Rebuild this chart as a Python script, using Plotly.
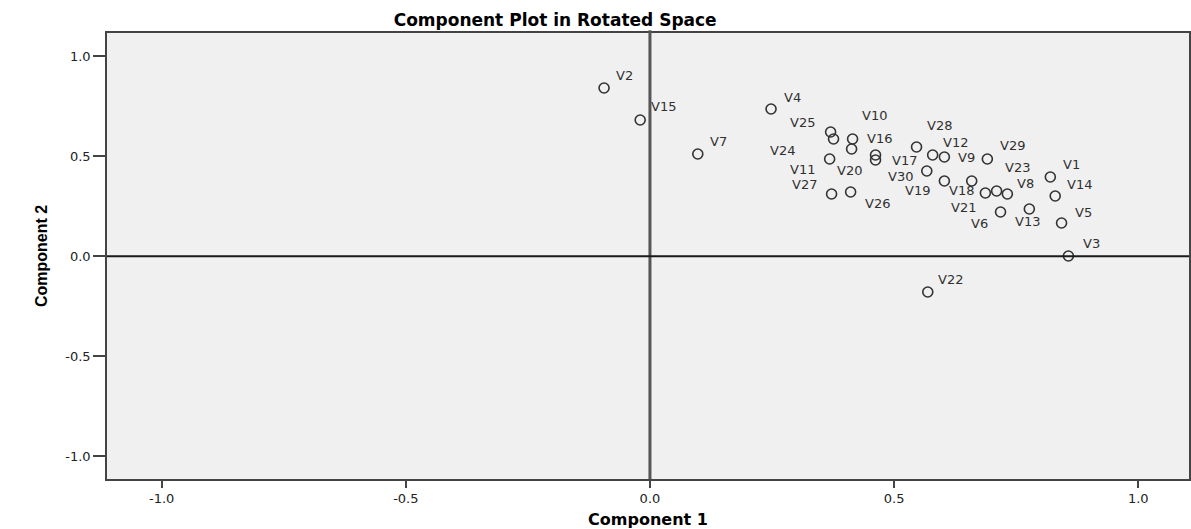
import plotly.graph_objects as go

# ---- data (rotated component loadings) ----
labels = [f"V{i}" for i in range(1, 31)]
component1 = [0.820, -0.094, 0.857, 0.248, 0.843, 0.718, 0.098, 0.732, 0.603, 0.376,
              0.462, 0.579, 0.777, 0.830, -0.020, 0.415, 0.462, 0.687, 0.603, 0.413,
              0.710, 0.569, 0.659, 0.368, 0.370, 0.411, 0.372, 0.546, 0.691, 0.567]
component2 = [0.396, 0.841, 0.001, 0.736, 0.166, 0.221, 0.511, 0.311, 0.496, 0.586,
              0.481, 0.506, 0.236, 0.301, 0.681, 0.586, 0.506, 0.316, 0.376, 0.536,
              0.326, -0.179, 0.376, 0.486, 0.621, 0.321, 0.311, 0.546, 0.486, 0.426]
tick_vals = [-1.0, -0.5, 0.0, 0.5, 1.0]
tick_text = ["-1.0", "-0.5", "0.0", "0.5", "1.0"]

# ---- label placement (pixel offsets of label centre from the point; style only) ----
label_offsets = [(21, -13), (20, -13), (23, -13), (21, -12), (22, -11), (-21, 11), (21, -13),
                 (18, -11), (22, 0), (41, -24), (-73, 9), (23, -13), (-2, 12), (24, -12),
                 (23, -14), (27, -1), (29, 5), (-24, -3), (-27, 9), (-2, 21), (-33, 16),
                 (23, -13), (46, -14), (-47, -9), (-28, -10), (27, 11), (-27, -10),
                 (23, -22), (25, -14), (-26, 5)]

mark_color = "#333333"

fig = go.Figure()
fig.add_trace(go.Scatter(
    x=component1, y=component2, mode="markers",
    marker=dict(symbol="circle-open", size=10, color=mark_color, line=dict(width=1.6, color=mark_color)),
    hovertext=labels, showlegend=False,
))

for lab, xv, yv, (dx, dy) in zip(labels, component1, component2, label_offsets):
    fig.add_annotation(x=xv, y=yv, text=lab, showarrow=False, xanchor="center", yanchor="middle",
                       xshift=dx, yshift=-dy,
                       font=dict(family="DejaVu Sans", size=13, color="#303030"))

# reference lines at 0
fig.add_shape(type="line", xref="x", yref="paper", x0=0, x1=0, y0=0, y1=1.006,
              line=dict(color="#555555", width=3))
fig.add_shape(type="line", xref="paper", yref="y", x0=0, x1=1, y0=0, y1=0,
              line=dict(color="#1a1a1a", width=2))

axis_common = dict(showgrid=False, zeroline=False, showline=True, linecolor="#444444", linewidth=1.5,
                   mirror=True, ticks="outside", tickcolor="#444444", tickwidth=2,
                   tickvals=tick_vals, ticktext=tick_text,
                   tickfont=dict(family="DejaVu Sans", size=13, color="#222222"))

fig.update_layout(
    width=1191, height=529,
    margin=dict(l=107, r=0, t=33, b=50),
    paper_bgcolor="white", plot_bgcolor="#f0f0f0",
    title=dict(text="<b>Component Plot in Rotated Space</b>", x=(556 - 107) / 1084, xref="paper",
               xanchor="center", y=0.962, yanchor="middle",
               font=dict(family="DejaVu Sans", size=17, color="black")),
    xaxis=dict(range=[-1.112, 1.104], ticklen=7, **axis_common,
               title=dict(text="<b>Component 1</b>", standoff=8,
                          font=dict(family="DejaVu Sans", size=16, color="black"))),
    yaxis=dict(range=[-1.114, 1.116], ticklen=12, **axis_common,
               title=dict(text="<b>Component 2</b>", standoff=14,
                          font=dict(family="Liberation Sans", size=16, color="black"))),
)

fig.write_html("out.html", config={"displayModeBar": False},
               post_script="document.body.style.margin='0';document.body.style.overflow='hidden';")
